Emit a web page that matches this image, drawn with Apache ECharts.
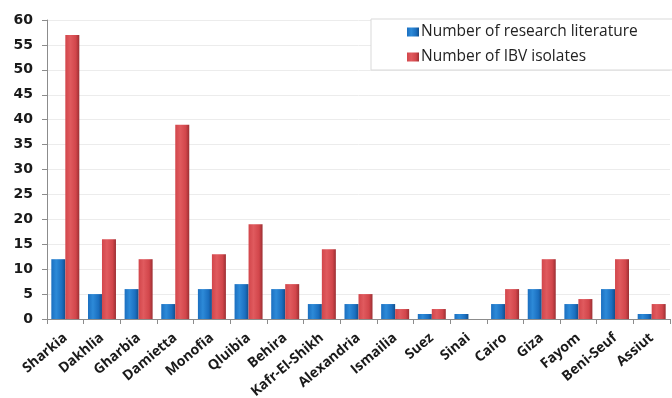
<!DOCTYPE html>
<html>
<head>
<meta charset="utf-8">
<script src="https://cdn.jsdelivr.net/npm/echarts@6/dist/echarts.min.js"></script>
<style>
  html, body { margin: 0; padding: 0; background: #ffffff; }
  #chart { width: 672px; height: 398px; }
</style>
</head>
<body>
<div id="chart"></div>
<script>
// Governorates along the x axis
var governorates = ['Sharkia', 'Dakhlia', 'Gharbia', 'Damietta', 'Monofia', 'Qluibia', 'Behira',
  'Kafr-El-Shikh', 'Alexandria', 'Ismailia', 'Suez', 'Sinai', 'Cairo', 'Giza', 'Fayom',
  'Beni-Seuf', 'Assiut'];

// Counts per governorate
var researchLiterature = [12, 5, 6, 3, 6, 7, 6, 3, 3, 3, 1, 1, 3, 6, 3, 6, 1];
var ibvIsolates = [57, 16, 12, 39, 13, 19, 7, 14, 5, 2, 2, 0, 6, 12, 4, 12, 3];

var seriesNames = ['Number of research literature', 'Number of IBV isolates'];
var yTicks = { min: 0, max: 60, interval: 5 };

// Horizontal shading gives the bars a rounded, cylinder-like look
function shade(dark, mid, light) {
  return new echarts.graphic.LinearGradient(0, 0, 1, 0, [
    { offset: 0, color: mid },
    { offset: 0.35, color: light },
    { offset: 0.75, color: mid },
    { offset: 1, color: dark }
  ]);
}

var blueFill = shade('#124f8c', '#1b6fc0', '#2d8ad8');
var redFill = shade('#9c2f33', '#d2464b', '#e05a5e');

var chart = echarts.init(document.getElementById('chart'), null, { renderer: 'canvas' });

chart.setOption({
  animation: false,
  backgroundColor: '#ffffff',
  grid: { left: 47, right: 2, top: 20, bottom: 79, containLabel: false, outerBoundsMode: 'none' },
  legend: {
    orient: 'vertical',
    left: 371,
    top: 19,
    padding: [5, 60, 5, 36],
    itemGap: 9,
    itemWidth: 12,
    itemHeight: 9,
    icon: 'rect',
    borderColor: '#d9d9d9',
    borderWidth: 1,
    backgroundColor: '#ffffff',
    textStyle: { fontFamily: 'Open Sans', fontSize: 15.5, color: '#222222', padding: [0, 0, 0, -3] },
    data: seriesNames
  },
  xAxis: {
    type: 'category',
    data: governorates,
    axisLine: { lineStyle: { color: '#8c8c8c', width: 1 } },
    axisTick: { show: true, length: 5, lineStyle: { color: '#8c8c8c' } },
    axisLabel: {
      interval: 0,
      rotate: 40,
      margin: 17,
      fontFamily: 'Open Sans',
      fontWeight: 'bold',
      fontSize: 14,
      color: '#1a1a1a'
    }
  },
  yAxis: {
    type: 'value',
    min: yTicks.min,
    max: yTicks.max,
    interval: yTicks.interval,
    axisLine: { show: true, lineStyle: { color: '#8c8c8c', width: 1 } },
    axisTick: { show: true, length: 5, lineStyle: { color: '#8c8c8c' } },
    axisLabel: {
      margin: 14,
      fontFamily: 'DejaVu Sans',
      fontWeight: 'bold',
      fontSize: 14,
      color: '#1a1a1a'
    },
    splitLine: { lineStyle: { color: '#ececec', width: 1 } }
  },
  series: [
    {
      name: seriesNames[0],
      type: 'bar',
      data: researchLiterature,
      barWidth: 14,
      barGap: '0%',
      itemStyle: { color: blueFill }
    },
    {
      name: seriesNames[1],
      type: 'bar',
      data: ibvIsolates,
      barWidth: 14,
      itemStyle: { color: redFill }
    }
  ]
});
</script>
</body>
</html>
